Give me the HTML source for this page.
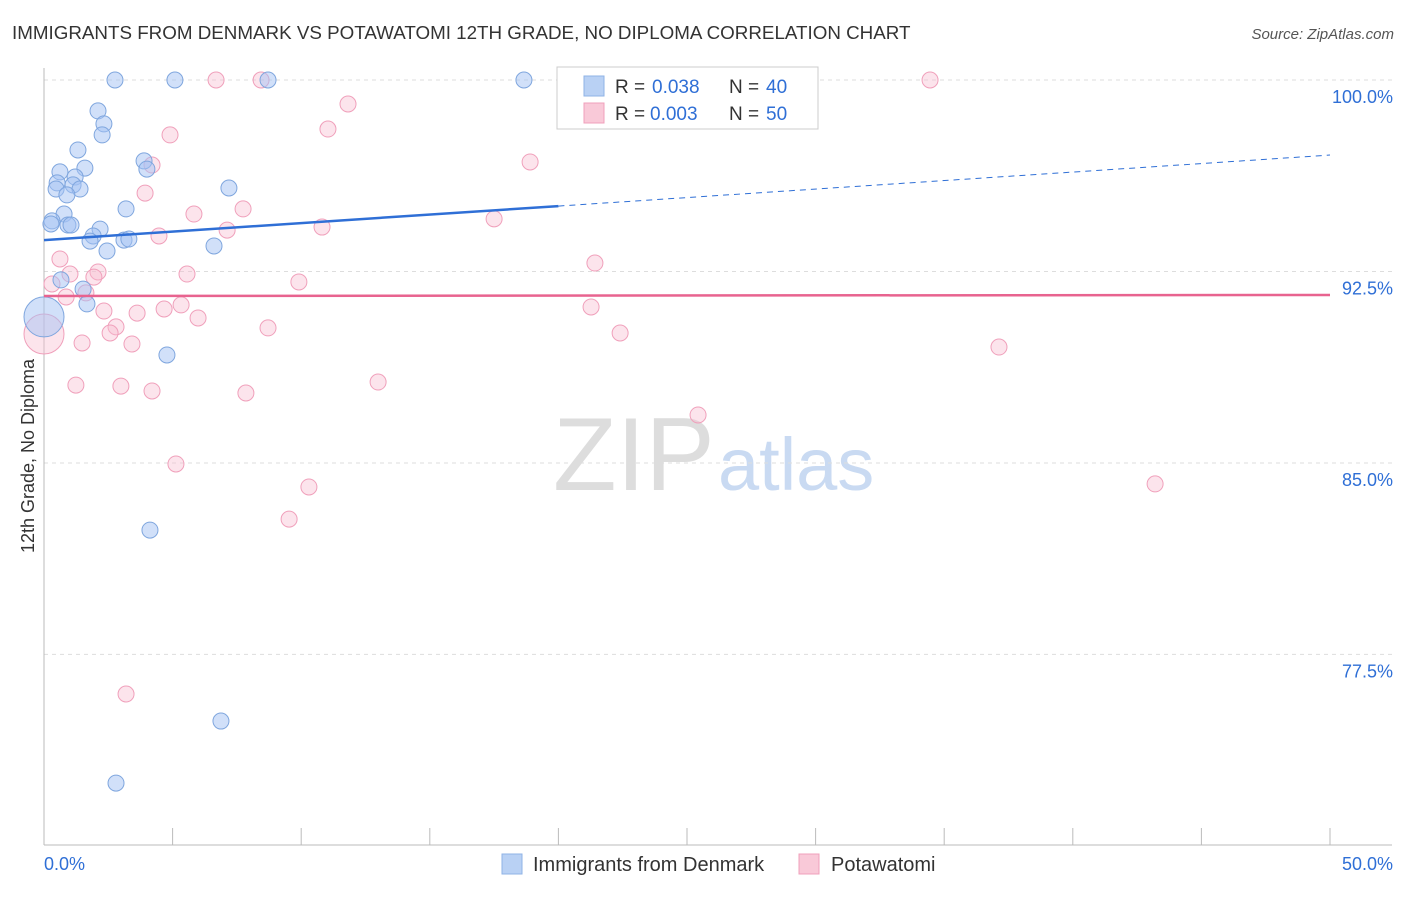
<!DOCTYPE html>
<html><head><meta charset="utf-8"><style>
body{margin:0;background:#fff;font-family:"Liberation Sans",sans-serif}
svg text{font-family:"Liberation Sans",sans-serif}
</style></head><body>
<svg id="c" width="1406" height="892">
<text x="12" y="39" font-size="18.8" fill="#333">IMMIGRANTS FROM DENMARK VS POTAWATOMI 12TH GRADE, NO DIPLOMA CORRELATION CHART</text>
<text x="1394" y="39" font-size="15" fill="#555" text-anchor="end" font-style="italic">Source: ZipAtlas.com</text>
<text x="553" y="490" font-size="104" fill="#ddd" font-family="Liberation Serif">ZIP</text>
<text x="718" y="490" font-size="74" fill="#c9daf2">atlas</text>
<text transform="translate(34,456) rotate(-90)" font-size="18" fill="#333" text-anchor="middle">12th Grade, No Diploma</text>
<g id="grid"></g><g id="marks"></g>
<g>
<rect x="557" y="67" width="261" height="62" fill="#fff" stroke="#ccc"/>
<rect x="584" y="76" width="20" height="20" fill="#b9d1f4" stroke="#8fb3e6"/>
<rect x="584" y="103" width="20" height="20" fill="#f9c9d8" stroke="#f0a0bb"/>
<text x="615" y="93" font-size="19" fill="#333">R =</text><text x="652" y="93" font-size="19" fill="#2f6fd6">0.038</text>
<text x="729" y="93" font-size="19" fill="#333">N =</text><text x="766" y="93" font-size="19" fill="#2f6fd6">40</text>
<text x="615" y="120" font-size="19" fill="#333">R =</text><text x="650" y="120" font-size="19" fill="#2f6fd6">0.003</text>
<text x="729" y="120" font-size="19" fill="#333">N =</text><text x="766" y="120" font-size="19" fill="#2f6fd6">50</text>
</g>
<g>
<rect x="502" y="854" width="20" height="20" fill="#b9d1f4" stroke="#8fb3e6"/>
<text x="533" y="871" font-size="20" fill="#333">Immigrants from Denmark</text>
<rect x="799" y="854" width="20" height="20" fill="#f9c9d8" stroke="#f0a0bb"/>
<text x="831" y="871" font-size="20" fill="#333">Potawatomi</text>
</g>
</svg>
<script>
const yTicks=[100,92.5,85,77.5];
const yTickLabels=["100.0%","92.5%","85.0%","77.5%"];
const xTicks=[0,5,10,15,20,25,30,35,40,45,50];
const blueX=[2.76,5.09,8.71,18.66,2.10,2.33,2.26,1.32,3.89,4.00,1.59,0.62,1.21,0.51,0.47,1.13,1.40,0.89,3.19,7.19,0.78,0.31,0.27,0.93,1.05,2.18,1.91,1.79,3.11,3.30,2.45,6.61,0.66,1.52,1.67,0,4.78,4.12,6.88,2.80];
const blueY=[100,100,100,100,98.79,98.28,97.85,97.26,96.83,96.51,96.55,96.40,96.20,95.97,95.73,95.89,95.73,95.50,94.95,95.77,94.75,94.48,94.36,94.32,94.32,94.16,93.89,93.69,93.73,93.77,93.30,93.50,92.17,91.81,91.23,90.72,89.23,82.37,74.89,72.46];
const pinkX=[6.69,8.44,34.45,11.82,11.04,4.90,4.20,18.90,3.93,7.74,5.83,17.50,10.81,7.12,4.47,0.62,21.42,2.10,1.01,5.56,9.91,1.94,0.31,1.63,0.86,5.33,4.67,3.62,2.33,21.27,5.99,8.71,2.80,2.57,22.40,0,1.48,3.42,37.13,12.99,1.24,2.99,4.20,7.85,25.43,5.13,10.30,43.20,9.53,3.19];
const pinkY=[100,100,100,99.06,98.08,97.85,96.67,96.79,95.57,94.95,94.75,94.56,94.24,94.12,93.89,92.99,92.83,92.48,92.40,92.40,92.09,92.28,92.01,91.66,91.50,91.19,91.03,90.87,90.95,91.11,90.68,90.29,90.33,90.09,90.09,90.05,89.70,89.66,89.54,88.17,88.05,88.01,87.82,87.74,86.88,84.96,84.06,84.18,82.80,75.95];
const blueTrend=[93.73,97.06];
const pinkTrend=[91.54,91.58];
const X=v=>44+v*25.72, Y=v=>80+(100-v)*25.53;
const NS="http://www.w3.org/2000/svg";
const g=document.getElementById('grid'), m=document.getElementById('marks');
function mk(tag,attrs,parent){const e=document.createElementNS(NS,tag);for(const k in attrs)e.setAttribute(k,attrs[k]);parent.appendChild(e);return e;}
yTicks.forEach((t,i)=>{
 const l=mk('line',{x1:44,x2:1392,y1:Y(t),y2:Y(t),stroke:'#ddd','stroke-dasharray':'4,4'},g);
 
 
 const tx=mk('text',{x:1393,y:Y(t)+23,'font-size':18,fill:'#2f6fd6','text-anchor':'end'},g);tx.textContent=yTickLabels[i];
 
 
});
mk('line',{x1:44,x2:44,y1:68,y2:845,stroke:'#bbb'},g);
mk('line',{x1:44,x2:1392,y1:845,y2:845,stroke:'#bbb'},g);
xTicks.forEach(t=>{const l=mk('line',{x1:X(t),x2:X(t),y1:828,y2:845,stroke:'#bbb'},g);
 
 });
const x0=mk('text',{x:44,y:870,'font-size':18,fill:'#2f6fd6'},g);x0.textContent='0.0%';


const x1=mk('text',{x:1393,y:870,'font-size':18,fill:'#2f6fd6','text-anchor':'end'},g);x1.textContent='50.0%';


pinkX.forEach((v,i)=>{const c=mk('circle',{cx:X(v),cy:Y(pinkY[i]),r:v===0?20:8,fill:'rgba(248,187,208,0.4)',stroke:'#f0a0bb','stroke-width':1},m);
 
 });
blueX.forEach((v,i)=>{const c=mk('circle',{cx:X(v),cy:Y(blueY[i]),r:v===0?20:8,fill:'rgba(164,194,244,0.5)',stroke:'#7fa6de','stroke-width':1},m);
 
 });
const bAt=x=>blueTrend[0]+(blueTrend[1]-blueTrend[0])*x/50;
const bl=mk('line',{x1:X(0),y1:Y(bAt(0)),x2:X(20),y2:Y(bAt(20)),stroke:'#2f6fd6','stroke-width':2.5},m);


const bd=mk('line',{x1:X(20),y1:Y(bAt(20)),x2:X(50),y2:Y(bAt(50)),stroke:'#2f6fd6','stroke-width':1,'stroke-dasharray':'6,5'},m);


const pl=mk('line',{x1:X(0),y1:Y(pinkTrend[0]),x2:X(50),y2:Y(pinkTrend[1]),stroke:'#e8638f','stroke-width':2.5},m);


</script>
</body></html>
